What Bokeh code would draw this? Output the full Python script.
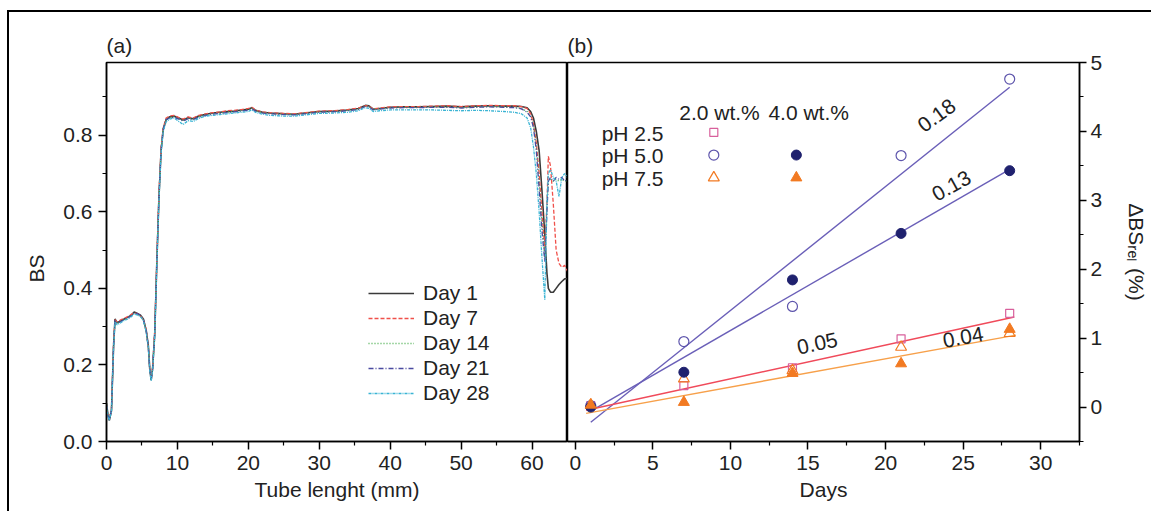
import math
from bokeh.plotting import figure
from bokeh.layouts import row
from bokeh.models import FixedTicker, PrintfTickFormatter, Legend, LegendItem, Title
from bokeh.core.properties import value
from bokeh.embed import file_html
from bokeh.resources import INLINE

FONT = "Liberation Sans"
TXT = "#222222"
FS = "21px"

# ---------------- panel (a) data ----------------
tube_mm = [0, 0.2, 0.4, 0.7, 1.0, 1.2, 1.5, 2.0, 2.5, 3.0,
           3.5, 3.9, 4.3, 4.8, 5.2, 5.6, 5.9, 6.1, 6.3, 6.5,
           6.8, 7.1, 7.4, 7.7, 8.0, 8.4, 8.9, 9.5, 10.2, 10.8,
           11.5, 12.2, 13.0, 14.0, 15.0, 16.0, 17.0, 18.0, 19.0, 20.0,
           20.5, 21.0, 22.0, 23.0, 24.0, 25.0, 26.5, 28.0, 30.0, 32.0,
           34.0, 35.5, 36.5, 37.0, 37.6, 38.5, 40.0, 42.0, 44.0, 46.0,
           48.0, 50.0, 52.0, 54.0, 56.0, 57.5, 58.5,
           59.3, 59.8, 60.2, 60.6, 61.0, 61.4, 61.8, 62.1, 62.3, 62.6,
           63.0, 63.4, 63.8, 64.2, 64.6, 65.0]

bs_day1 = [0.100, 0.070, 0.055, 0.080, 0.250, 0.320, 0.310, 0.315, 0.320, 0.325,
           0.330, 0.338, 0.335, 0.330, 0.320, 0.290, 0.250, 0.190, 0.160, 0.190,
           0.280, 0.470, 0.640, 0.760, 0.815, 0.840, 0.848, 0.850, 0.845, 0.840,
           0.846, 0.843, 0.850, 0.855, 0.858, 0.860, 0.862, 0.863, 0.866, 0.868,
           0.872, 0.865, 0.860, 0.858, 0.857, 0.856, 0.855, 0.858, 0.862, 0.863,
           0.866, 0.870, 0.878, 0.877, 0.868, 0.870, 0.873, 0.874, 0.874, 0.875,
           0.876, 0.874, 0.876, 0.877, 0.876, 0.876, 0.875,
           0.872, 0.862, 0.845, 0.810, 0.760, 0.655, 0.540, 0.440, 0.400, 0.390,
           0.390, 0.400, 0.410, 0.418, 0.425, 0.425]

bs_day7 = [0.095, 0.068, 0.058, 0.085, 0.260, 0.318, 0.312, 0.318, 0.322, 0.326,
           0.332, 0.336, 0.334, 0.328, 0.318, 0.292, 0.245, 0.185, 0.165, 0.195,
           0.290, 0.480, 0.650, 0.770, 0.820, 0.845, 0.850, 0.852, 0.846, 0.842,
           0.848, 0.845, 0.852, 0.856, 0.859, 0.861, 0.864, 0.865, 0.867, 0.870,
           0.873, 0.866, 0.861, 0.859, 0.858, 0.857, 0.856, 0.859, 0.863, 0.864,
           0.867, 0.871, 0.877, 0.876, 0.869, 0.871, 0.874, 0.875, 0.875, 0.876,
           0.877, 0.875, 0.877, 0.878, 0.877, 0.877, 0.875,
           0.870, 0.856, 0.830, 0.780, 0.700, 0.600, 0.500, 0.620, 0.745, 0.720,
           0.620, 0.500, 0.465, 0.455, 0.460, 0.445]

bs_day14 = [0.098, 0.072, 0.060, 0.082, 0.255, 0.315, 0.308, 0.314, 0.318, 0.324,
            0.329, 0.335, 0.333, 0.327, 0.318, 0.288, 0.248, 0.188, 0.162, 0.192,
            0.285, 0.475, 0.645, 0.765, 0.818, 0.842, 0.846, 0.848, 0.843, 0.838,
            0.844, 0.842, 0.848, 0.853, 0.856, 0.858, 0.860, 0.862, 0.864, 0.866,
            0.870, 0.864, 0.859, 0.857, 0.856, 0.855, 0.854, 0.857, 0.861, 0.862,
            0.865, 0.868, 0.876, 0.875, 0.867, 0.869, 0.872, 0.873, 0.873, 0.874,
            0.874, 0.872, 0.874, 0.875, 0.874, 0.873, 0.870,
            0.862, 0.850, 0.825, 0.770, 0.680, 0.570, 0.480, 0.620, 0.680, 0.685,
            0.680, 0.685, 0.680, 0.685, 0.680, 0.680]

bs_day21 = [0.096, 0.069, 0.057, 0.083, 0.252, 0.316, 0.309, 0.313, 0.319, 0.323,
            0.328, 0.336, 0.334, 0.329, 0.319, 0.289, 0.247, 0.187, 0.163, 0.191,
            0.283, 0.472, 0.642, 0.762, 0.816, 0.841, 0.845, 0.847, 0.842, 0.837,
            0.843, 0.841, 0.847, 0.852, 0.855, 0.857, 0.859, 0.861, 0.863, 0.865,
            0.869, 0.863, 0.858, 0.856, 0.855, 0.854, 0.853, 0.856, 0.860, 0.861,
            0.864, 0.867, 0.875, 0.874, 0.866, 0.868, 0.871, 0.872, 0.872, 0.873,
            0.873, 0.871, 0.873, 0.874, 0.873, 0.872, 0.869,
            0.860, 0.848, 0.820, 0.760, 0.660, 0.550, 0.470, 0.600, 0.680, 0.690,
            0.680, 0.690, 0.685, 0.690, 0.680, 0.685]

bs_day28 = [0.094, 0.066, 0.056, 0.078, 0.245, 0.312, 0.305, 0.310, 0.316, 0.320,
            0.326, 0.333, 0.331, 0.326, 0.316, 0.286, 0.244, 0.184, 0.158, 0.186,
            0.275, 0.460, 0.630, 0.755, 0.810, 0.835, 0.842, 0.845, 0.836, 0.828,
            0.838, 0.836, 0.844, 0.850, 0.852, 0.854, 0.856, 0.858, 0.860, 0.862,
            0.866, 0.860, 0.855, 0.852, 0.851, 0.850, 0.850, 0.853, 0.857, 0.858,
            0.860, 0.864, 0.872, 0.870, 0.862, 0.864, 0.866, 0.866, 0.866, 0.866,
            0.865, 0.864, 0.865, 0.864, 0.862, 0.860, 0.856,
            0.845, 0.820, 0.770, 0.700, 0.600, 0.480, 0.370, 0.620, 0.700, 0.710,
            0.690, 0.680, 0.640, 0.690, 0.700, 0.690]

day_labels = ["Day 1", "Day 7", "Day 14", "Day 21", "Day 28"]

# ---------------- panel (b) data ----------------
days = [1, 7, 14, 21, 28]
ph25_2wt = [0.02, 0.31, 0.57, 0.99, 1.36]
ph50_2wt = [0.02, 0.95, 1.46, 3.65, 4.76]
ph50_4wt = [0.00, 0.505, 1.845, 2.52, 3.43]
ph75_2wt = [0.03, 0.41, 0.53, 0.87, 1.07]
ph75_4wt = [0.03, 0.07, 0.49, 0.63, 1.13]

fit_slope = [0.18, 0.13, 0.049, 0.041]
fit_intercept = [-0.40, -0.19, -0.08, -0.12]
fit_start = [1.0, 1.0, 0.7, 0.7]
fit_end = [28.0, 28.0, 28.3, 28.4]
fit_text = ["0.18", "0.13", "0.05", "0.04"]

ph_labels = ["pH 2.5", "pH 5.0", "pH 7.5"]
conc_labels = ["2.0 wt.%", "4.0 wt.%"]


def style_axis(ax, tick_out=8, minor_out=4):
    ax.axis_line_color = "black"
    ax.axis_line_width = 1.5
    ax.major_tick_line_color = "black"
    ax.major_tick_line_width = 1.5
    ax.minor_tick_line_color = "black"
    ax.minor_tick_line_width = 1.2
    ax.major_tick_out = tick_out
    ax.major_tick_in = 0
    ax.minor_tick_out = minor_out
    ax.minor_tick_in = 0
    ax.major_label_text_font = FONT
    ax.major_label_text_font_size = FS
    ax.major_label_text_color = TXT
    ax.axis_label_text_font = FONT
    ax.axis_label_text_font_size = FS
    ax.axis_label_text_font_style = "normal"
    ax.axis_label_text_color = TXT


def style_fig(p, title):
    p.grid.visible = False
    p.outline_line_color = "black"
    p.outline_line_width = 1.5
    p.outline_line_alpha = 1.0
    p.background_fill_color = "white"
    p.border_fill_color = "white"
    p.title.text = title
    p.title.align = "left"
    p.title.text_font = FONT
    p.title.text_font_size = FS
    p.title.text_font_style = "normal"
    p.title.text_color = TXT
    p.title.standoff = 12


# ---------------- panel (a) ----------------
p1 = figure(width=558, height=499, x_range=(0, 65), y_range=(0, 0.99),
            output_backend="svg", toolbar_location=None,
            min_border_left=95, min_border_right=0, min_border_top=50, min_border_bottom=70)
style_fig(p1, "(a)")
style_axis(p1.xaxis[0])
style_axis(p1.yaxis[0])
p1.xaxis.ticker = FixedTicker(ticks=[0, 10, 20, 30, 40, 50, 60],
                              minor_ticks=[5, 15, 25, 35, 45, 55])
p1.yaxis.ticker = FixedTicker(ticks=[0.0, 0.2, 0.4, 0.6, 0.8],
                              minor_ticks=[0.1, 0.3, 0.5, 0.7, 0.9])
p1.yaxis.formatter = PrintfTickFormatter(format="%.1f")
p1.xaxis.axis_label = "Tube lenght (mm)"
p1.xaxis.major_label_standoff = 6
p1.yaxis.major_label_standoff = 6

p1.add_layout(Title(text="BS", align="left", offset=159, standoff=26,
                    vertical_align="bottom", text_font=FONT, text_font_size=FS,
                    text_font_style="normal", text_color=TXT), "left")

series = [bs_day1, bs_day7, bs_day14, bs_day21, bs_day28]
colors = ["#3a3a3a", "#f0504a", "#4cb050", "#4a4aa0", "#3ab4d4"]
dashes = ["solid", "4 2", "1 2", "5 2 1 2", "3 1 1 1"]
widths = [1.6, 1.3, 1.3, 1.3, 1.3]
items = []
for lab, ys, c, d, w in zip(day_labels, series, colors, dashes, widths):
    r = p1.line(tube_mm, ys, line_color=c, line_dash=d, line_width=w)
    items.append(LegendItem(label=lab, renderers=[r]))

leg = Legend(items=items, location=(262, 36), border_line_color=None,
             background_fill_alpha=0, glyph_width=46, glyph_height=20,
             label_height=20, label_standoff=9, spacing=1, padding=0, margin=0,
             label_text_font=FONT, label_text_font_size=FS, label_text_color=TXT)
p1.add_layout(leg)

# ---------------- panel (b) ----------------
p2 = figure(width=584, height=499, x_range=(-0.5, 32.5), y_range=(-0.5, 5),
            y_axis_location="right", output_backend="svg", toolbar_location=None,
            min_border_left=0, min_border_right=66, min_border_top=50, min_border_bottom=70)
style_fig(p2, "(b)")
style_axis(p2.xaxis[0])
style_axis(p2.yaxis[0], tick_out=7, minor_out=4)
p2.xaxis.ticker = FixedTicker(ticks=[0, 5, 10, 15, 20, 25, 30],
                              minor_ticks=[2.5, 7.5, 12.5, 17.5, 22.5, 27.5, 32.5])
p2.yaxis.ticker = FixedTicker(ticks=[0, 1, 2, 3, 4, 5],
                              minor_ticks=[-0.5, 0.5, 1.5, 2.5, 3.5, 4.5])
p2.xaxis.axis_label = "Days"
p2.yaxis.axis_label = "ΔBSᵣₑₗ (%)"
p2.yaxis.axis_label_standoff = 20
p2.xaxis.major_label_standoff = 6
p2.yaxis.major_label_standoff = 4

fit_colors = ["#6a5fb8", "#6a5fb8", "#f04a5a", "#f7a04a"]
for s, b, x0, x1, c in zip(fit_slope, fit_intercept, fit_start, fit_end, fit_colors):
    p2.line([x0, x1], [b + s * x0, b + s * x1], line_color=c, line_width=1.4)

SQ = "#d8609c"
OC = "#5e55ac"
FC = "#1f216e"
TR = "#f27a22"

p2.scatter(days, ph25_2wt, marker="square", size=8, fill_alpha=0,
           line_color=SQ, line_width=1.2)
p2.scatter(days, ph50_2wt, marker="circle", size=10, fill_alpha=0,
           line_color=OC, line_width=1.2)
p2.scatter(days, ph75_2wt, marker="triangle", size=11, fill_alpha=0,
           line_color=TR, line_width=1.2)
p2.scatter(days, ph50_4wt, marker="circle", size=10, fill_color=FC, line_color=FC)
p2.scatter(days, ph75_4wt, marker="triangle", size=11, fill_color=TR, line_color=TR)

# slope labels
p2.text(x=[23.3, 24.25, 15.6, 25.0], y=[4.23, 3.21, 0.92, 1.01], text=fit_text,
        angle=[36, 29, 12, 10], angle_units="deg",
        text_align="center", text_baseline="middle",
        text_font=value(FONT), text_font_size=FS, text_color=TXT)

# in-plot legend
p2.text(x=[1.7, 1.7, 1.7], y=[3.966, 3.647, 3.313], text=ph_labels,
        text_align="left", text_baseline="middle",
        text_font=value(FONT), text_font_size=FS, text_color=TXT)
p2.text(x=[6.7, 12.45], y=[4.275, 4.275], text=conc_labels,
        text_align="left", text_baseline="middle",
        text_font=value(FONT), text_font_size=FS, text_color=TXT)
p2.scatter([8.93], [3.985], marker="square", size=8, fill_alpha=0, line_color=SQ, line_width=1.2)
p2.scatter([8.93], [3.657], marker="circle", size=10, fill_alpha=0, line_color=OC, line_width=1.2)
p2.scatter([8.93], [3.328], marker="triangle", size=11, fill_alpha=0, line_color=TR, line_width=1.2)
p2.scatter([14.25], [3.657], marker="circle", size=10, fill_color=FC, line_color=FC)
p2.scatter([14.25], [3.328], marker="triangle", size=11, fill_color=TR, line_color=TR)

layout = row(p1, p2, spacing=0,
             styles={"border-left": "2px solid black", "border-top": "2px solid black",
                     "margin-top": "10px", "margin-left": "7px"})

open("out.html", "w").write(file_html(layout, INLINE))
